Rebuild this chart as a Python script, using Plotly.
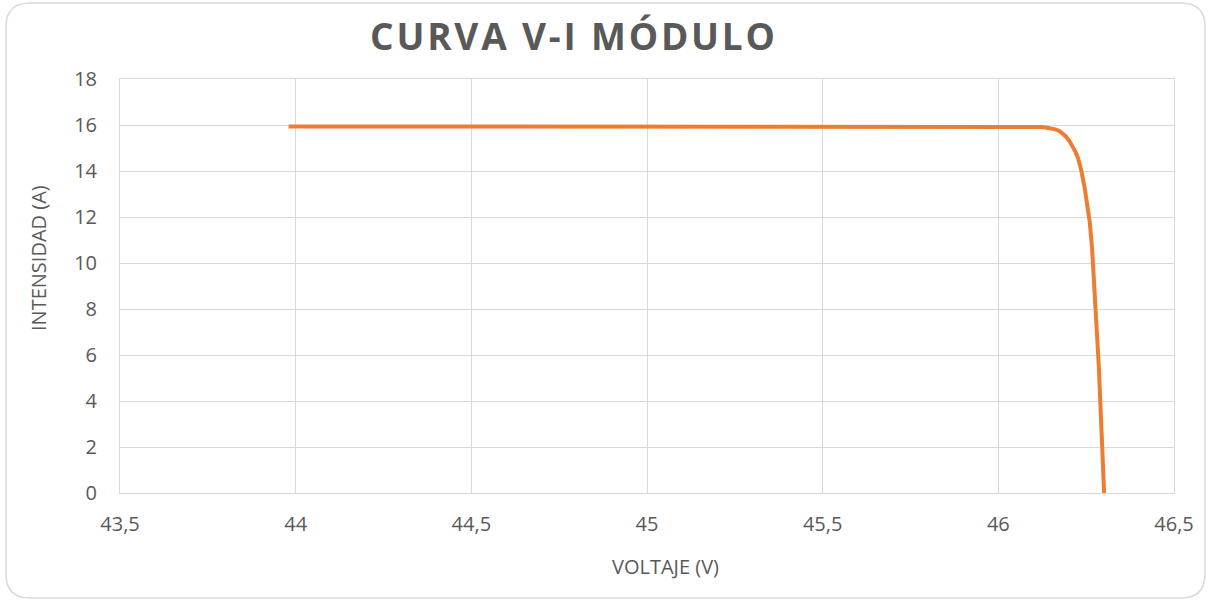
import plotly.graph_objects as go

# ---- data ----
voltage = [43.98, 44.5, 45.0, 45.5, 45.9, 46.05, 46.08, 46.10, 46.12, 46.135, 46.15,
           46.162, 46.174, 46.184, 46.193, 46.203, 46.212, 46.220, 46.227,
           46.236, 46.246, 46.254, 46.260, 46.267, 46.276, 46.286, 46.294, 46.301]
current = [15.94, 15.94, 15.94, 15.94, 15.94, 15.94, 15.935, 15.93, 15.915, 15.895, 15.86,
           15.81, 15.74, 15.63, 15.49, 15.29, 15.06, 14.82, 14.55,
           14.04, 13.25, 12.5, 11.8, 10.6, 8.4, 5.5, 2.6, 0.0]

x_tickvals = [43.5, 44, 44.5, 45, 45.5, 46, 46.5]
x_ticktext = ["43,5", "44", "44,5", "45", "45,5", "46", "46,5"]
y_tickvals = [0, 2, 4, 6, 8, 10, 12, 14, 16, 18]
y_ticktext = ["0", "2", "4", "6", "8", "10", "12", "14", "16", "18"]

title_text = "CURVA V-I MÓDULO"
x_title = "VOLTAJE (V)"
y_title = "INTENSIDAD (A)"

# ---- layout geometry (pixels) ----
W, H = 1208, 601
L, R, T, B = 120, 1174, 79, 493
GRID = "#D9D9D9"
TXT = "#595959"
FONT = "Open Sans"


def px_x(p):
    return (p - L) / (R - L)


def px_y(p):
    return (B - p) / (B - T)


fig = go.Figure()
fig.add_trace(go.Scatter(
    x=voltage, y=current, mode="lines",
    line=dict(color="#ED7D31", width=4, shape="linear"),
    showlegend=False, hoverinfo="x+y",
))

fig.update_layout(
    width=W, height=H,
    margin=dict(l=L, r=W - R, t=T, b=H - B, pad=0),
    paper_bgcolor="white", plot_bgcolor="white",
    font=dict(family=FONT, color=TXT, size=20),
    separators=",.",
    showlegend=False,
)

fig.update_xaxes(
    range=[43.5, 46.5], tickvals=x_tickvals, ticktext=x_ticktext,
    showgrid=True, gridcolor=GRID, gridwidth=1,
    showline=True, mirror=True, linecolor=GRID, linewidth=1,
    zeroline=False, ticks="", ticklabelstandoff=13,
    tickfont=dict(family=FONT, size=20, color=TXT),
)
fig.update_yaxes(
    range=[0, 18], tickvals=y_tickvals, ticktext=y_ticktext,
    showgrid=True, gridcolor=GRID, gridwidth=1,
    showline=True, mirror=True, linecolor=GRID, linewidth=1,
    zeroline=False, ticks="", ticklabelstandoff=18,
    tickfont=dict(family=FONT, size=20, color=TXT),
)

# title and axis titles as annotations
fig.add_annotation(
    text=f'<span style="letter-spacing:2.8px">{title_text}</span>',
    xref="paper", yref="paper",
    x=px_x(574), y=px_y(36), xanchor="center", yanchor="middle",
    showarrow=False,
    font=dict(family=FONT, size=37, color=TXT, weight="bold"),
)
fig.add_annotation(
    text=x_title, xref="paper", yref="paper",
    x=px_x(665), y=px_y(566), xanchor="center", yanchor="middle",
    showarrow=False, font=dict(family=FONT, size=20, color=TXT),
)
fig.add_annotation(
    text=y_title, xref="paper", yref="paper",
    x=px_x(38), y=px_y(258), xanchor="center", yanchor="middle",
    textangle=-90, showarrow=False, font=dict(family=FONT, size=20, color=TXT),
)

# rounded outer border
x0, y0, x1, y1, r = 6, 3, 1205, 598, 24
path = (
    f"M {px_x(x0 + r)},{px_y(y0)} L {px_x(x1 - r)},{px_y(y0)} "
    f"Q {px_x(x1)},{px_y(y0)} {px_x(x1)},{px_y(y0 + r)} "
    f"L {px_x(x1)},{px_y(y1 - r)} Q {px_x(x1)},{px_y(y1)} {px_x(x1 - r)},{px_y(y1)} "
    f"L {px_x(x0 + r)},{px_y(y1)} Q {px_x(x0)},{px_y(y1)} {px_x(x0)},{px_y(y1 - r)} "
    f"L {px_x(x0)},{px_y(y0 + r)} Q {px_x(x0)},{px_y(y0)} {px_x(x0 + r)},{px_y(y0)} Z"
)
fig.add_shape(type="path", path=path, xref="paper", yref="paper",
              line=dict(color=GRID, width=1.5), layer="below")

fig.write_html(
    "out.html",
    config={"displayModeBar": False},
    post_script="document.body.style.margin='0px';document.body.style.padding='0px';",
)
